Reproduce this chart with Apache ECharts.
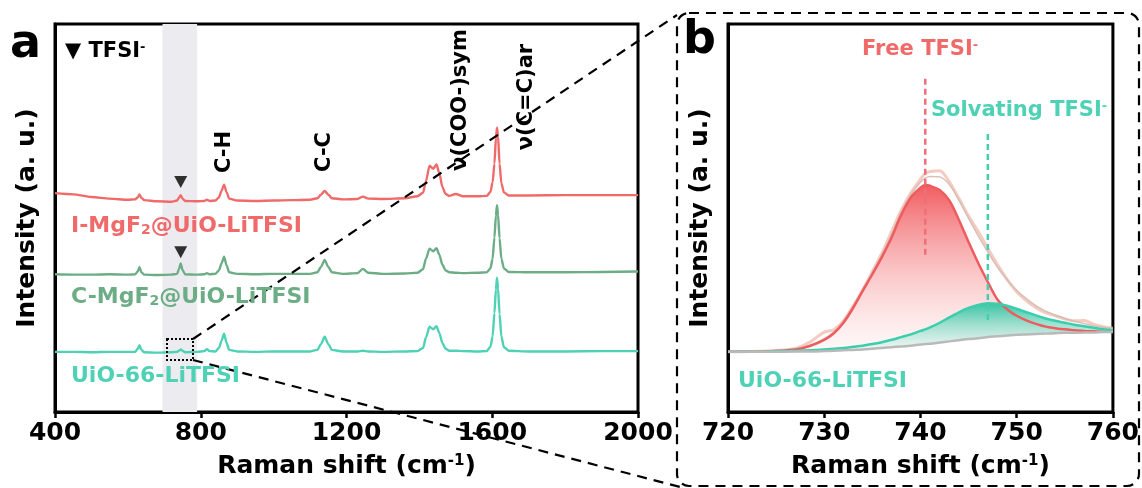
<!DOCTYPE html>
<html>
<head>
<meta charset="utf-8">
<script src="https://cdn.jsdelivr.net/npm/echarts/dist/echarts.min.js"></script>
<style>
  html, body { margin: 0; padding: 0; background: #fff; }
  #chart { width: 1142px; height: 488px; }
</style>
</head>
<body>
<div id="chart"></div>
<script>
// ---------- Panel a: full Raman spectra (offset traces) ----------
const shiftA = [400, 450, 500, 550, 600, 620, 627, 632, 637, 645, 680, 720, 735, 740, 745, 750, 757, 790, 810, 817, 824, 840, 850, 857, 864, 871, 878, 900, 950, 1000, 1050, 1100, 1120, 1130, 1140, 1150, 1160, 1190, 1230, 1245, 1260, 1300, 1360, 1395, 1410, 1418, 1428, 1438, 1447, 1455, 1463, 1472, 1482, 1500, 1520, 1560, 1585, 1595, 1601, 1606, 1610, 1613, 1616, 1620, 1625, 1632, 1645, 1700, 1800, 1900, 2000];

const iMgF2 = [56.4, 56.1, 55.4, 55.0, 54.7, 54.8, 55.3, 56.1, 55.2, 54.6, 54.3, 54.2, 54.5, 55.2, 55.9, 55.0, 54.4, 54.3, 54.4, 54.7, 54.4, 54.5, 55.3, 57.0, 58.6, 56.6, 55.0, 54.5, 54.4, 54.5, 54.6, 54.7, 55.1, 56.0, 57.0, 56.0, 55.1, 54.8, 54.9, 55.5, 55.0, 54.9, 55.1, 55.6, 56.5, 59.5, 63.5, 62.7, 63.8, 61.5, 58.0, 56.2, 55.7, 56.2, 55.6, 55.6, 55.7, 56.7, 59.2, 64.0, 70.5, 73.3, 71.0, 64.0, 59.0, 56.6, 55.8, 55.8, 55.9, 55.9, 55.9];

const cMgF2 = [35.5, 35.4, 35.4, 35.5, 35.4, 35.5, 36.2, 37.3, 36.0, 35.4, 35.3, 35.4, 35.6, 36.8, 38.3, 36.6, 35.5, 35.4, 35.5, 35.8, 35.5, 35.6, 36.5, 38.3, 40.0, 37.8, 36.0, 35.6, 35.5, 35.6, 35.6, 35.6, 36.0, 37.4, 39.2, 37.4, 36.0, 35.6, 35.8, 36.9, 35.9, 35.6, 35.7, 35.9, 36.8, 39.5, 42.1, 41.4, 42.2, 40.5, 38.0, 36.5, 36.0, 35.9, 35.8, 35.9, 36.0, 37.0, 39.5, 45.0, 50.5, 53.3, 50.8, 44.8, 39.5, 37.0, 36.1, 36.0, 36.0, 36.1, 36.2];

const uio66 = [15.5, 15.5, 15.4, 15.5, 15.5, 15.5, 16.3, 17.2, 16.0, 15.4, 15.3, 15.4, 15.5, 15.8, 16.1, 15.8, 15.4, 15.5, 15.7, 16.2, 15.7, 15.6, 16.5, 18.4, 20.2, 17.8, 16.0, 15.6, 15.5, 15.6, 15.6, 15.6, 16.0, 17.5, 19.4, 17.5, 16.0, 15.6, 15.6, 15.8, 15.6, 15.5, 15.6, 15.7, 16.5, 19.2, 22.0, 21.3, 22.1, 20.3, 17.8, 16.3, 15.8, 15.8, 15.7, 15.6, 15.7, 16.8, 19.5, 25.5, 31.5, 34.6, 31.8, 25.3, 19.5, 16.7, 15.8, 15.6, 15.6, 15.7, 15.7];

// TFSI- band (shaded) and its markers on the two MgF2 traces
const tfsiBand = [695, 790];
const tfsiMarks = [[745, 59.3], [745, 41.2]];
const ticksA = { min: 400, max: 2000, interval: 400 };

// ---------- Panel b: 720-760 cm-1 peak fitting of UiO-66-LiTFSI ----------
const shiftB = [720, 724, 727, 728.5, 730, 731, 732, 733, 734, 735, 736, 737, 738, 739, 740, 740.5, 741, 742, 743, 744, 745, 746, 747, 748, 749, 750, 751, 752, 753, 754, 755, 756, 757, 758, 759, 760];

const baseline = [15.5, 15.5, 15.6, 15.6, 15.7, 15.8, 15.9, 16.0, 16.1, 16.3, 16.5, 16.7, 16.9, 17.1, 17.4, 17.5, 17.6, 17.9, 18.2, 18.5, 18.8, 19.0, 19.3, 19.5, 19.7, 19.9, 20.0, 20.1, 20.2, 20.3, 20.4, 20.4, 20.5, 20.5, 20.6, 20.6];

const freeFit = [15.5, 15.6, 16.1, 17.0, 18.6, 20.3, 23.0, 26.8, 31.2, 35.5, 40.0, 45.0, 50.8, 55.3, 57.8, 58.5, 58.3, 57.2, 54.5, 49.5, 43.8, 38.4, 33.5, 29.0, 26.5, 24.8, 23.6, 22.7, 22.0, 21.6, 21.3, 21.1, 20.9, 20.8, 20.7, 20.7];

const solvFit = [15.5, 15.6, 15.8, 15.9, 16.1, 16.3, 16.5, 16.8, 17.1, 17.5, 18.0, 18.6, 19.3, 20.0, 20.9, 21.3, 21.8, 23.0, 24.4, 25.7, 26.8, 27.6, 28.0, 27.9, 27.4, 26.6, 25.7, 24.9, 24.1, 23.5, 23.0, 22.5, 22.1, 21.7, 21.3, 21.0];

const measured = [15.5, 15.7, 16.4, 18.0, 20.6, 21.2, 23.5, 27.3, 31.5, 36.2, 41.0, 46.5, 52.0, 56.5, 60.0, 61.5, 62.0, 62.2, 59.3, 55.0, 50.5, 46.5, 42.2, 38.0, 34.2, 31.0, 28.7, 26.9, 25.6, 24.8, 24.0, 23.5, 23.6, 22.6, 22.0, 21.6];

const envelope = [15.5, 15.6, 16.2, 17.2, 18.9, 20.6, 23.4, 27.2, 31.6, 36.0, 40.6, 45.8, 51.5, 56.0, 59.2, 60.3, 60.7, 60.6, 58.6, 54.6, 49.9, 45.4, 41.2, 37.3, 34.1, 31.4, 29.2, 27.4, 26.0, 25.0, 24.1, 23.4, 22.8, 22.2, 21.8, 21.5];

// peak-centre guides: [x, yFrom, yTo]
const freeGuide = [740.5, 40.5, 86.9];
const solvGuide = [747, 23.7, 71.9];
const ticksB = { min: 720, max: 760, interval: 10 };

// ---------- styling ----------
const FONT = 'DejaVu Sans';
const RED = '#f06a6a';
const GREEN = '#6cad86';
const TEAL = '#4fd1b5';

const pairs = (xs, ys) => xs.map((x, i) => [x, ys[i]]);

function xAxisCfg(gridIndex, t) {
  return {
    type: 'value', gridIndex, min: t.min, max: t.max, interval: t.interval,
    axisLine: { lineStyle: { color: '#000', width: 3 } },
    axisTick: { length: 6, lineStyle: { color: '#000', width: 2.5 } },
    axisLabel: { color: '#000', fontFamily: FONT, fontWeight: 'bold', fontSize: 25, margin: 9,
                 showMinLabel: true, showMaxLabel: true, formatter: v => String(v) },
    splitLine: { show: false },
    name: 'Raman shift (cm{s|-1})', nameLocation: 'middle', nameGap: 42,
    nameTextStyle: {
      color: '#000', fontFamily: FONT, fontWeight: 'bold', fontSize: 25,
      rich: { s: { color: '#000', fontFamily: FONT, fontWeight: 'bold', fontSize: 15, verticalAlign: 'top' } }
    }
  };
}
function yAxisCfg(gridIndex) {
  return {
    type: 'value', gridIndex, min: 0, max: 100,
    axisLine: { show: true, lineStyle: { color: '#000', width: 3 } },
    axisTick: { show: false }, axisLabel: { show: false }, splitLine: { show: false },
    name: 'Intensity (a. u.)', nameLocation: 'middle', nameGap: 15,
    nameTextStyle: { color: '#000', fontFamily: FONT, fontWeight: 'bold', fontSize: 25 }
  };
}

function spectrum(data, color) {
  return {
    type: 'line', xAxisIndex: 0, yAxisIndex: 0, data: pairs(shiftA, data),
    showSymbol: false, smooth: 0.25, smoothMonotone: 'x',
    lineStyle: { color, width: 2.4 }, silent: true
  };
}

// filled band between a fitted component and the baseline
function fitFill(fit, top, bottom) {
  return {
    type: 'custom', xAxisIndex: 1, yAxisIndex: 1, data: [[740, 30]], silent: true,
    renderItem: (params, api) => {
      const upper = shiftB.map((x, i) => api.coord([x, fit[i]]));
      const lower = shiftB.map((x, i) => api.coord([x, baseline[i]])).reverse();
      return {
        type: 'polygon',
        shape: { points: upper.concat(lower) },
        style: { fill: new echarts.graphic.LinearGradient(0, 0, 0, 1, [
          { offset: 0, color: top }, { offset: 1, color: bottom }]) }
      };
    }
  };
}
function fitLine(data, color, width, z) {
  return {
    type: 'line', xAxisIndex: 1, yAxisIndex: 1, data: pairs(shiftB, data),
    showSymbol: false, smooth: 0.3, lineStyle: { color, width }, silent: true, z: z || 2
  };
}
function guide(g, color) {
  return {
    type: 'line', xAxisIndex: 1, yAxisIndex: 1, data: [[g[0], g[1]], [g[0], g[2]]],
    showSymbol: false, silent: true, z: 5,
    lineStyle: { color, width: 2.5, type: [6, 4] }
  };
}

function txt(x, y, text, color, size, extra) {
  return Object.assign({
    type: 'text', x, y, silent: true, z: 10,
    style: Object.assign({
      text, fill: color, fontFamily: FONT, fontWeight: 'bold', fontSize: size,
      align: 'left', verticalAlign: 'middle',
      rich: {
        s: { fill: color, fontFamily: FONT, fontWeight: 'bold', fontSize: Math.round(size * 0.6), verticalAlign: 'top' },
        d: { fill: color, fontFamily: FONT, fontWeight: 'bold', fontSize: Math.round(size * 0.65), verticalAlign: 'bottom' }
      }
    }, extra && extra.style)
  }, extra && extra.el);
}
const vert = { el: { rotation: Math.PI / 2 }, style: { align: 'center' } };

const option = {
  backgroundColor: '#fff',
  animation: false,
  textStyle: { fontFamily: FONT },
  grid: [
    { left: 55, top: 24, width: 583, height: 388, show: true, borderColor: '#000', borderWidth: 3 },
    { left: 728, top: 24, width: 385, height: 388, show: true, borderColor: '#000', borderWidth: 3 }
  ],
  xAxis: [xAxisCfg(0, ticksA), xAxisCfg(1, ticksB)],
  yAxis: [yAxisCfg(0), yAxisCfg(1)],
  series: [
    // shaded TFSI- region
    {
      type: 'line', xAxisIndex: 0, yAxisIndex: 0, data: [], silent: true,
      markArea: { silent: true, itemStyle: { color: '#ececf0' },
                  data: [[{ xAxis: tfsiBand[0] }, { xAxis: tfsiBand[1] }]] }
    },
    spectrum(iMgF2, RED),
    spectrum(cMgF2, GREEN),
    spectrum(uio66, TEAL),
    {
      type: 'scatter', xAxisIndex: 0, yAxisIndex: 0, data: tfsiMarks, silent: true,
      symbol: 'triangle', symbolRotate: 180, symbolSize: [13, 12],
      itemStyle: { color: '#000' }
    },
    // panel b
    fitFill(freeFit, 'rgba(240,84,88,0.95)', 'rgba(255,236,236,0.35)'),
    fitLine(measured, 'rgba(238,185,172,0.75)', 3),
    fitLine(envelope, 'rgba(214,186,176,0.9)', 1.5),
    fitLine(freeFit, '#ee5c60', 2.5),
    fitFill(solvFit, 'rgba(44,196,160,0.95)', 'rgba(225,246,240,0.45)'),
    fitLine(solvFit, '#3ccdac', 2.5, 3),
    fitLine(baseline, '#b9b9b9', 2.5, 3),
    guide(freeGuide, '#ee6f78'),
    guide(solvGuide, '#46cfae')
  ],
  graphic: [
    // panel letters
    txt(10, 45, 'a', '#000', 46),
    txt(683, 41, 'b', '#000', 46),
    // marker key
    txt(65, 52, '▼ TFSI{s|-}', '#000', 21),
    // band assignments
    txt(225, 152, 'C-H', '#000', 21, vert),
    txt(325, 152, 'C-C', '#000', 21, vert),
    txt(461, 100, 'ν(COO-)sym', '#000', 21, vert),
    txt(527, 97, 'ν(C=C)ar', '#000', 21, vert),
    // trace names
    txt(71, 226, 'I-MgF{d|2}@UiO-LiTFSI', RED, 22),
    txt(71, 297, 'C-MgF{d|2}@UiO-LiTFSI', GREEN, 22),
    txt(71, 376, 'UiO-66-LiTFSI', TEAL, 22),
    // panel b labels
    txt(862, 50, 'Free TFSI{s|-}', RED, 21),
    txt(931, 111, 'Solvating TFSI{s|-}', TEAL, 21),
    txt(738, 381, 'UiO-66-LiTFSI', TEAL, 22),
    // zoom frame and connectors
    { type: 'rect', silent: true, z: 9, shape: { x: 193 - 26, y: 339, width: 26, height: 21 },
      style: { fill: 'none', stroke: '#000', lineWidth: 2, lineDash: [2, 2] } },
    { type: 'line', silent: true, z: 9, shape: { x1: 193, y1: 339, x2: 677, y2: 15 },
      style: { stroke: '#000', lineWidth: 2.2, lineDash: [10, 7] } },
    { type: 'line', silent: true, z: 9, shape: { x1: 193, y1: 360, x2: 684, y2: 488 },
      style: { stroke: '#000', lineWidth: 2.2, lineDash: [10, 7] } },
    { type: 'rect', silent: true, z: 9, shape: { x: 677, y: 13, width: 462, height: 473, r: 12 },
      style: { fill: 'none', stroke: '#000', lineWidth: 2.2, lineDash: [10, 7] } }
  ]
};

const chart = echarts.init(document.getElementById('chart'), null, { renderer: 'canvas' });
chart.setOption(option);
</script>
</body>
</html>
